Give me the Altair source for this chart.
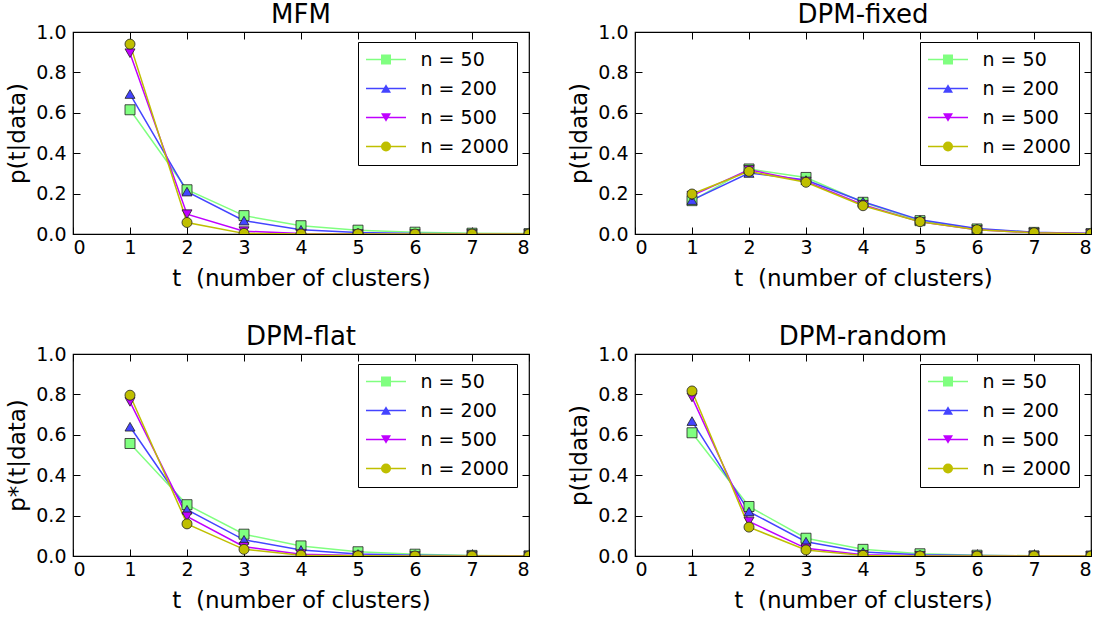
import altair as alt
import pandas as pd

# ---------------- data ----------------
t_values = [1, 2, 3, 4, 5, 6, 7, 8]
series_labels = ["n = 50", "n = 200", "n = 500", "n = 2000"]
panel_titles = ["MFM", "DPM-fixed", "DPM-flat", "DPM-random"]
y_titles = ["p(t|data)", "p(t|data)", "p*(t|data)", "p(t|data)"]
x_title = "t\u00a0 (number of clusters)"
x_ticks = [0, 1, 2, 3, 4, 5, 6, 7, 8]
y_ticks = [0.0, 0.2, 0.4, 0.6, 0.8, 1.0]

mfm_n50 = [0.615, 0.219, 0.091, 0.041, 0.019, 0.009, 0.004, 0.002]
mfm_n200 = [0.693, 0.210, 0.066, 0.021, 0.007, 0.002, 0.001, 0.000]
mfm_n500 = [0.895, 0.098, 0.014, 0.002, 0.000, 0.000, 0.000, 0.000]
mfm_n2000 = [0.940, 0.057, 0.003, 0.000, 0.000, 0.000, 0.000, 0.000]

fixed_n50 = [0.165, 0.322, 0.280, 0.157, 0.066, 0.025, 0.008, 0.002]
fixed_n200 = [0.168, 0.302, 0.267, 0.160, 0.070, 0.027, 0.009, 0.003]
fixed_n500 = [0.190, 0.318, 0.260, 0.145, 0.060, 0.021, 0.006, 0.002]
fixed_n2000 = [0.198, 0.310, 0.256, 0.140, 0.061, 0.021, 0.006, 0.001]

flat_n50 = [0.557, 0.254, 0.108, 0.050, 0.021, 0.009, 0.003, 0.001]
flat_n200 = [0.640, 0.229, 0.080, 0.030, 0.010, 0.004, 0.001, 0.000]
flat_n500 = [0.763, 0.196, 0.046, 0.009, 0.002, 0.000, 0.000, 0.000]
flat_n2000 = [0.796, 0.159, 0.033, 0.004, 0.001, 0.000, 0.000, 0.000]

random_n50 = [0.610, 0.245, 0.088, 0.033, 0.011, 0.004, 0.001, 0.000]
random_n200 = [0.668, 0.220, 0.071, 0.020, 0.006, 0.002, 0.001, 0.000]
random_n500 = [0.785, 0.171, 0.038, 0.006, 0.001, 0.000, 0.000, 0.000]
random_n2000 = [0.817, 0.143, 0.030, 0.003, 0.000, 0.000, 0.000, 0.000]

panel_series = [
    [mfm_n50, mfm_n200, mfm_n500, mfm_n2000],
    [fixed_n50, fixed_n200, fixed_n500, fixed_n2000],
    [flat_n50, flat_n200, flat_n500, flat_n2000],
    [random_n50, random_n200, random_n500, random_n2000],
]

# ---------------- style ----------------
colors = ["#80ff80", "#4444ff", "#bf00ff", "#bfbf00"]
shapes = ["square", "triangle-up", "triangle-down", "circle"]
W, H = 456, 202
FONT = "DejaVu Sans"
TICK = 7
TC = "black"


def make_df(series):
    rows = []
    for k, (lab, vals) in enumerate(zip(series_labels, series)):
        for t, p in zip(t_values, vals):
            rows.append({"t": t, "p": p, "n": lab, "n2": lab, "order": k})
    return pd.DataFrame(rows)


def panel(series, title, ytitle):
    df = make_df(series)
    xs = alt.Scale(domain=[0, 8], nice=False, zero=False)
    ys = alt.Scale(domain=[0, 1], nice=False, zero=False)
    base = alt.Chart(df)

    line_legend = alt.Legend(
        orient="none", legendX=285, legendY=10, title=None,
        symbolType="M-4,0L4,0", symbolSize=100, symbolStrokeWidth=1.5,
        labelFontSize=19, labelFont=FONT, labelColor="black",
        padding=8, rowPadding=9, symbolOffset=10.5, labelOffset=25,
        strokeColor="black", fillColor="white", cornerRadius=0,
    )
    marker_legend = alt.Legend(
        orient="none", legendX=285, legendY=10, title=None,
        symbolSize=100, symbolStrokeColor="#222222", symbolStrokeWidth=0.8,
        labelFontSize=19, labelFont=FONT, labelOpacity=0,
        padding=8, rowPadding=9, symbolOffset=10.5, labelOffset=25,
    )

    lines = base.mark_line(strokeWidth=1.5, clip=True).encode(
        x=alt.X("t:Q", scale=xs, axis=alt.Axis(
            orient="bottom", values=x_ticks, format="d", tickSize=0,
            domain=False, grid=False, labelPadding=4,
            title=x_title, titlePadding=10)),
        y=alt.Y("p:Q", scale=ys, axis=alt.Axis(
            orient="left", values=y_ticks, format=".1f", tickSize=0,
            domain=False, grid=False, labelPadding=7,
            title=ytitle, titlePadding=6)),
        stroke=alt.Stroke("n2:N", sort=series_labels,
                          scale=alt.Scale(range=colors), legend=line_legend),
    )

    points = base.mark_point(filled=True, size=100, stroke="#222222",
                             strokeWidth=0.8, opacity=1, clip=True).encode(
        x=alt.X("t:Q", scale=xs, axis=alt.Axis(
            orient="top", offset=-H, values=x_ticks, labels=False,
            tickSize=TICK, tickWidth=1, tickColor=TC, tickOpacity=1,
            domain=False, grid=False, title=None)),
        y=alt.Y("p:Q", scale=ys, axis=alt.Axis(
            orient="right", offset=-W, values=y_ticks, labels=False,
            tickSize=TICK, tickWidth=1, tickColor=TC, tickOpacity=1,
            domain=False, grid=False, title=None)),
        fill=alt.Fill("n:N", scale=alt.Scale(domain=series_labels, range=colors),
                      legend=marker_legend),
        shape=alt.Shape("n:N", scale=alt.Scale(domain=series_labels, range=shapes),
                        legend=marker_legend),
        order=alt.Order("order:Q"),
    )

    ticks2 = base.mark_point(opacity=0).encode(
        x=alt.X("t:Q", scale=xs, axis=alt.Axis(
            orient="bottom", offset=-H, values=x_ticks, labels=False,
            tickSize=TICK, tickWidth=1, tickColor=TC, tickOpacity=1,
            domain=False, grid=False, title=None)),
        y=alt.Y("p:Q", scale=ys, axis=alt.Axis(
            orient="left", offset=-W, values=y_ticks, labels=False,
            tickSize=TICK, tickWidth=1, tickColor=TC, tickOpacity=1,
            domain=False, grid=False, title=None)),
    )

    return alt.layer(lines, points, ticks2).resolve_axis(
        x="independent", y="independent"
    ).properties(
        width=W, height=H,
        title=alt.Title(title, fontSize=26, font=FONT, fontWeight="normal",
                        color="black", offset=-26, baseline="alphabetic",
                        frame="group"),
    )


panels = [panel(s, t, y) for s, t, y in zip(panel_series, panel_titles, y_titles)]
indep = dict(stroke="independent", fill="independent", shape="independent")

top = alt.hconcat(panels[0], panels[1], spacing=106, bounds="flush").resolve_scale(**indep)
bottom = alt.hconcat(panels[2], panels[3], spacing=106, bounds="flush").resolve_scale(**indep)

chart = alt.vconcat(top, bottom, spacing=H + 120, bounds="flush").resolve_scale(**indep).properties(
    padding={"left": 6, "top": 1, "right": 5, "bottom": 5}
).configure_view(
    stroke="black", strokeWidth=1.2
).configure_axis(
    labelFont=FONT, labelFontSize=19, labelColor="black",
    titleFont=FONT, titleFontSize=23, titleFontWeight="normal", titleColor="black",
).configure_legend(
    labelFont=FONT,
)

chart.save("out.html", embed_options={"renderer": "svg", "actions": False})
